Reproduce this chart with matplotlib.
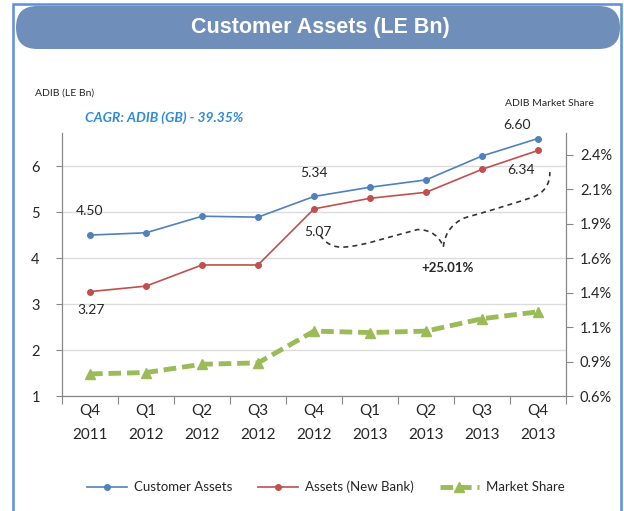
import matplotlib.pyplot as plt
from matplotlib.patches import FancyBboxPatch, Rectangle, PathPatch
from matplotlib.path import Path

plt.rcParams['font.family'] = ['Lato', 'DejaVu Sans']

# dados
trimestres = ['Q4\n2011', 'Q1\n2012', 'Q2\n2012', 'Q3\n2012', 'Q4\n2012',
              'Q1\n2013', 'Q2\n2013', 'Q3\n2013', 'Q4\n2013']
customer_assets = [4.50, 4.55, 4.91, 4.89, 5.34, 5.54, 5.70, 6.22, 6.60]
assets_new_bank = [3.27, 3.39, 3.85, 3.85, 5.07, 5.30, 5.43, 5.93, 6.34]
market_share = [0.76, 0.77, 0.83, 0.84, 1.07, 1.06, 1.07, 1.16, 1.21]  # em %

ms_ticks = [0.6, 0.85, 1.1, 1.35, 1.6, 1.85, 2.1, 2.35]
ms_labels = ['0.6%', '0.9%', '1.1%', '1.4%', '1.6%', '1.9%', '2.1%', '2.4%']

azul = '#4F81BD'
vermelho = '#C0504D'
verde = '#9BBB59'
cinza = '#868686'
texto = '#262626'

fig = plt.figure(figsize=(6.24, 5.11), dpi=100)
W, H = 624, 511

# moldura e cabeçalho
fig.patches.append(Rectangle((13 / W, -0.05), 608 / W, 1 - 4 / H + 0.05, transform=fig.transFigure,
                             fill=False, edgecolor='#5B8FD9', linewidth=1.8))
fig.patches.append(FancyBboxPatch((16 / W, 1 - 49 / H), 604 / W, 43 / H, transform=fig.transFigure,
                                  boxstyle='round,pad=0,rounding_size=0.034', mutation_aspect=624 / 511,
                                  facecolor='#6F8FBA', edgecolor='none'))
fig.text(320 / W, 1 - 28 / H, 'Customer Assets (LE Bn)', color='white', fontsize=15.5,
         fontweight='bold', family=['Liberation Sans Narrow', 'Liberation Sans', 'DejaVu Sans'],
         ha='center', va='center')

ax = fig.add_axes([62 / W, 1 - 396 / H, 504 / W, 263 / H])
x = list(range(len(trimestres)))

l1, = ax.plot(x, customer_assets, color=azul, marker='o', markersize=4, linewidth=1.2,
              label='Customer Assets')
l2, = ax.plot(x, assets_new_bank, color=vermelho, marker='o', markersize=4, linewidth=1.2,
              label='Assets (New Bank)')

ax.set_xlim(-0.5, len(trimestres) - 0.5)
ax.set_ylim(1, 6.72)
ax.set_yticks([1, 2, 3, 4, 5, 6])
ax.set_xticks([i - 0.5 for i in range(len(trimestres) + 1)])
ax.set_xticklabels([])
ax.set_xticks(x, minor=True)
ax.set_xticklabels(trimestres, minor=True, fontsize=11, color=texto, linespacing=1.9)
ax.tick_params(axis='x', which='minor', length=0, pad=6)
ax.tick_params(axis='x', which='major', length=6, color=cinza, direction='out')
ax.tick_params(axis='y', length=4, color=cinza, labelsize=10.5, labelcolor=texto, pad=12)
ax.grid(axis='y', color='#DCDCDC', linewidth=1)
ax.set_axisbelow(True)
ax.spines['top'].set_visible(False)
for s in ['left', 'bottom', 'right']:
    ax.spines[s].set_color(cinza)

# rótulos de valores
def rotulo(i, serie, dx, dy):
    ax.annotate(f'{serie[i]:.2f}', (i, serie[i]), xytext=(dx, dy), textcoords='offset points',
                ha='center', va='center', fontsize=10, color=texto)

rotulo(0, customer_assets, 0, 17)
rotulo(0, assets_new_bank, 1, -13)
rotulo(4, customer_assets, 0, 17)
rotulo(4, assets_new_bank, 3, -17)
rotulo(8, customer_assets, -15, 10)
rotulo(8, assets_new_bank, -12, -14)

# chave tracejada do crescimento
verts = [(4.11, 4.50), (4.2, 4.32), (4.35, 4.22), (4.55, 4.24),
         (4.9, 4.27), (5.3, 4.45), (5.85, 4.62),
         (6.1, 4.62), (6.25, 4.45), (6.31, 4.24),
         (6.33, 4.55), (6.5, 4.85), (6.85, 4.93),
         (7.2, 5.05), (7.6, 5.2), (7.92, 5.33),
         (8.1, 5.42), (8.22, 5.6), (8.21, 5.87)]
codes = [Path.MOVETO] + [Path.CURVE4] * (len(verts) - 1)
ax.add_patch(PathPatch(Path(verts, codes), fill=False, edgecolor='#333333', linewidth=1.2,
                       linestyle=(0, (3, 2.5)), clip_on=False))
ax.text(6.39, 3.78, '+25.01%', ha='center', va='center', fontsize=9.5, color=texto,
        fontweight='bold')

ax2 = ax.twinx()
l3, = ax2.plot(x, market_share, color=verde, marker='^', markersize=6.5, linewidth=3.5,
               dashes=(2.6, 1.2), label='Market Share')
ax2.set_ylim(0.6, 2.506)
ax2.set_yticks(ms_ticks)
ax2.set_yticklabels(ms_labels)
ax2.tick_params(axis='y', length=5, color=cinza, labelsize=10.5, labelcolor=texto, pad=5)
ax2.spines['top'].set_visible(False)
for s in ['left', 'bottom', 'right']:
    ax2.spines[s].set_color(cinza)

fig.text(35 / W, 1 - 93 / H, 'ADIB (LE Bn)', fontsize=7.5, color=texto, ha='left', va='center')
fig.text(85 / W, 1 - 118 / H, 'CAGR: ADIB (GB) - 39.35%', fontsize=10, color='#2F8BD8',
         style='italic', fontweight='bold', ha='left', va='center')
fig.text(505 / W, 1 - 104 / H, 'ADIB Market Share', fontsize=7.5, color=texto, ha='left',
         va='center')

fig.legend(handles=[l1, l2, l3], loc='center', bbox_to_anchor=(326 / W, 1 - 487 / H), ncol=3,
           frameon=False, fontsize=9.5, handlelength=3.0, columnspacing=2.0, handletextpad=0.5,
           labelcolor=texto)

fig.savefig('out.png', dpi=100)
